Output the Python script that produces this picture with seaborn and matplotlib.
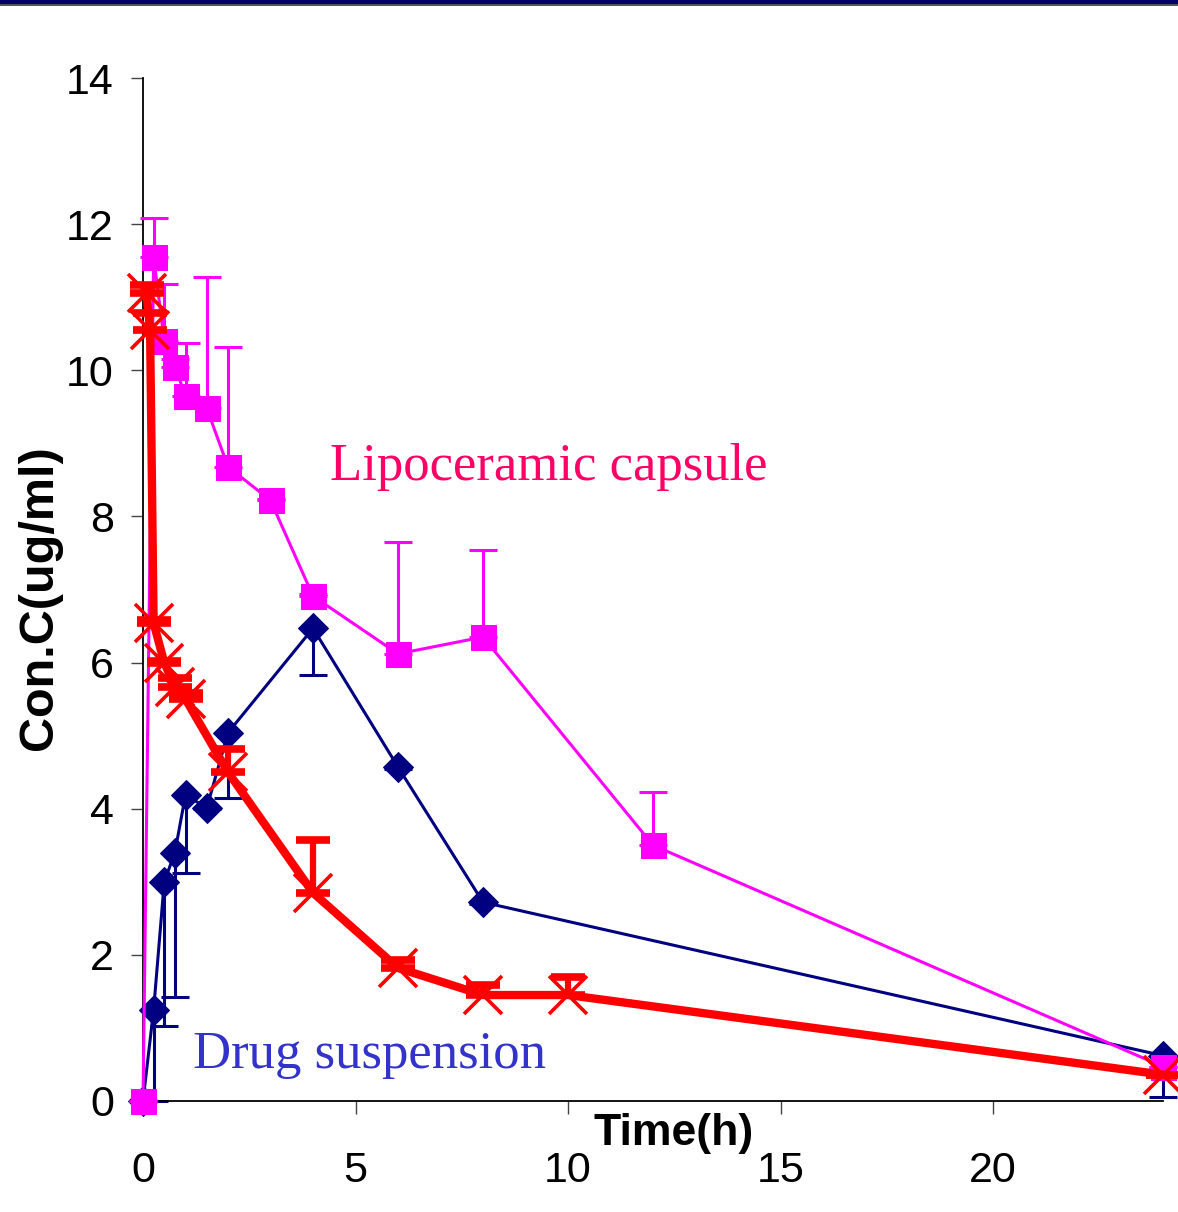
import matplotlib
matplotlib.use("Agg")
import matplotlib.pyplot as plt
from matplotlib.patches import Rectangle
import seaborn as sns
import pandas as pd

# Plasma concentration (ug/ml) versus time (h), mean with one-sided SD bars
t_susp = [0, 0.25, 0.5, 0.75, 1, 1.5, 2, 4, 6, 8, 24]
susp_mean = [0, 1.25, 3.0, 3.4, 4.19, 4.01, 5.04, 6.47, 4.57, 2.72, 0.62]
susp_sd = [0, 1.25, 1.97, 1.98, 1.07, 0.02, 0.9, 0.64, 0.02, 0.02, 0.56]

t_caps = [0, 0.25, 0.5, 0.75, 1, 1.5, 2, 3, 4, 6, 8, 12, 24]
caps_mean = [0, 11.55, 10.4, 10.05, 9.65, 9.48, 8.68, 8.22, 6.91, 6.12, 6.35, 3.5, 0.47]
caps_sd = [0, 0.53, 0.78, 0.1, 0.72, 1.8, 1.64, 0.02, 0.03, 1.53, 1.19, 0.73, 0]

t_ref = [0.083, 0.167, 0.25, 0.5, 0.75, 1, 2, 4, 6, 8, 10, 24]
ref_mean = [11.06, 10.55, 6.54, 6.0, 5.67, 5.5, 4.5, 2.85, 1.82, 1.45, 1.45, 0.36]
ref_sd = [0.11, 0.23, 0.04, 0.02, 0.12, 0.09, 0.32, 0.72, 0.11, 0.14, 0.25, 0]

x_ticks = [0, 5, 10, 15, 20]
y_ticks = [0, 2, 4, 6, 8, 10, 12, 14]

sns.set_style("ticks")
plt.rcParams["font.family"] = ["Liberation Sans", "DejaVu Sans"]
plt.rcParams["text.color"] = "black"
plt.rcParams["axes.labelcolor"] = "black"

fig = plt.figure(figsize=(11.78, 12.12), dpi=100)
ax = fig.add_axes([0.1214, 0.0916, 0.8659, 0.844])

NAVY = "#000080"
MAGENTA = "#FF00FF"
RED = "#FF0000"

susp = pd.DataFrame({"t": t_susp, "c": susp_mean, "sd": susp_sd})
caps = pd.DataFrame({"t": t_caps, "c": caps_mean, "sd": caps_sd})
ref = pd.DataFrame({"t": t_ref, "c": ref_mean, "sd": ref_sd})

# Drug suspension: navy diamonds, SD drawn downward
ax.errorbar(susp["t"], susp["c"], yerr=[susp["sd"], [0] * len(susp)], fmt="none",
            ecolor=NAVY, elinewidth=2.2, capsize=10, capthick=2.2, zorder=2)
sns.lineplot(data=susp, x="t", y="c", ax=ax, color=NAVY, linewidth=2.2,
             marker="D", markersize=15, markeredgecolor=NAVY, sort=False,
             estimator=None, zorder=3)

# Lipoceramic capsule: magenta squares, SD drawn upward
ax.errorbar(caps["t"], caps["c"], yerr=[[0] * len(caps), caps["sd"]], fmt="none",
            ecolor=MAGENTA, elinewidth=2.2, capsize=10, capthick=2.2, zorder=4)
sns.lineplot(data=caps, x="t", y="c", ax=ax, color=MAGENTA, linewidth=2.2,
             marker="s", markersize=18, markeredgecolor=MAGENTA, sort=False,
             estimator=None, zorder=5)

# Third formulation: thick red line with crosses, SD drawn upward
ax.errorbar(ref["t"], ref["c"], yerr=[[0] * len(ref), ref["sd"]], fmt="none",
            ecolor=RED, elinewidth=4.5, capsize=12, capthick=5.5, zorder=6)
sns.lineplot(data=ref, x="t", y="c", ax=ax, color=RED, linewidth=6,
             marker="x", markersize=28, markeredgewidth=2.6, markeredgecolor=RED,
             sort=False, estimator=None, zorder=7)

ax.set_xlim(0, 24)
ax.set_ylim(0, 14)
ax.set_xticks(x_ticks)
ax.set_yticks(y_ticks)
ax.tick_params(axis="both", which="major", labelsize=31, length=9, width=1,
               direction="out", color="#444444", labelcolor="black")
ax.tick_params(axis="x", pad=27)
ax.tick_params(axis="y", pad=12)
sns.despine(ax=ax)
for sp in ("left", "bottom"):
    ax.spines[sp].set_linewidth(1.3)
    ax.spines[sp].set_color("black")
    ax.spines[sp].set_clip_on(False)

ax.set_xlabel("Time(h)", fontsize=32, fontweight="bold", color="black")
ax.xaxis.set_label_coords(0.52, -0.012)
ax.set_ylabel("Con.C(ug/ml)", fontsize=35, fontweight="bold", color="black")
ax.yaxis.set_label_coords(-0.079, 0.492)

ax.text(4.4, 8.68, "Lipoceramic capsule", fontsize=38, color="#FF0066",
        family=["Liberation Serif", "DejaVu Serif"], ha="left", va="center")
ax.text(1.18, 0.63, "Drug suspension", fontsize=38, color="#3333CC",
        family=["Liberation Serif", "DejaVu Serif"], ha="left", va="center")

for line in ax.lines:
    line.set_clip_on(False)
for coll in ax.collections:
    coll.set_clip_on(False)

# Slide header band along the top edge
fig.add_artist(Rectangle((0, 1 - 4 / 1212), 1, 4 / 1212, transform=fig.transFigure,
                         facecolor="#000066", edgecolor="none"))
fig.add_artist(Rectangle((0, 1 - 6 / 1212), 1, 2 / 1212, transform=fig.transFigure,
                         facecolor="#555555", edgecolor="none"))

leg = ax.get_legend()
if leg is not None:
    leg.remove()

fig.savefig("out.png", dpi=100, facecolor="white")
